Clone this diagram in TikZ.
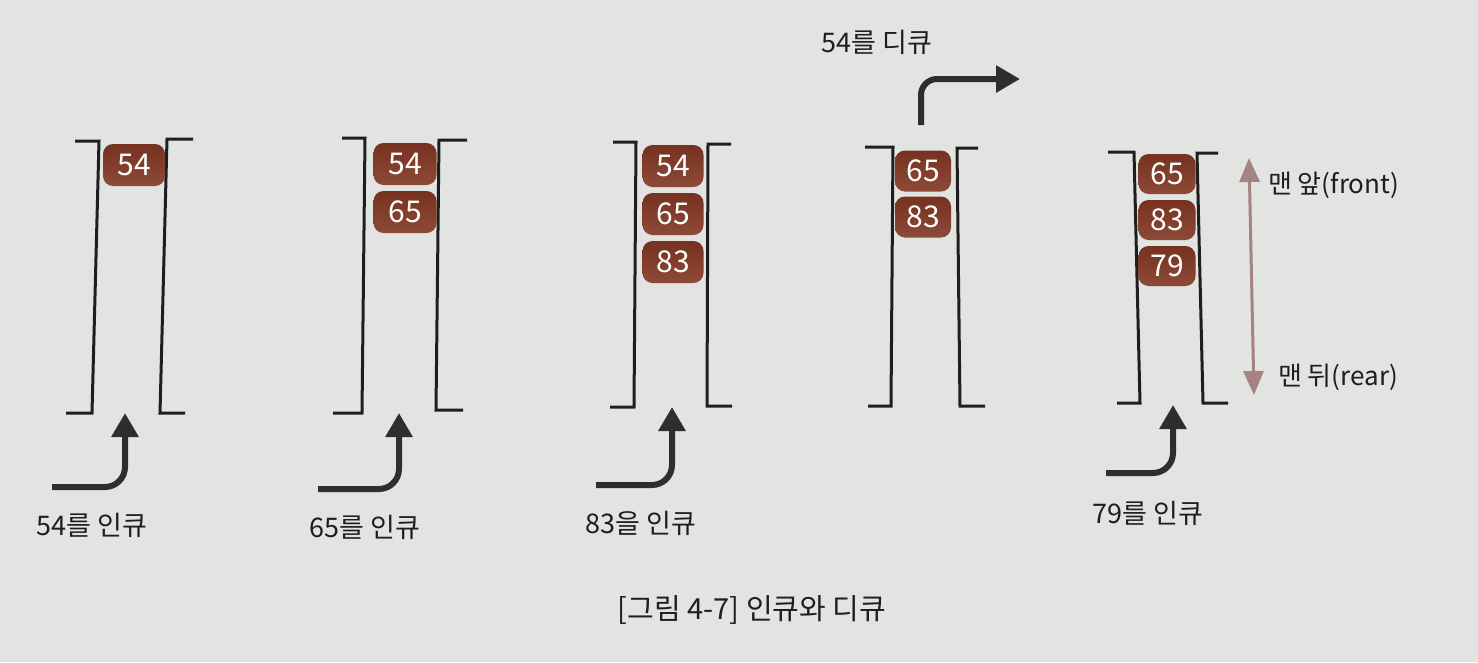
\documentclass[tikz,border=0pt]{standalone}
\usepackage{fontspec}
\setmainfont{Noto Sans CJK KR}
\usetikzlibrary{arrows.meta}
\definecolor{bg}{HTML}{E2E4E1}
\definecolor{cell}{HTML}{76321F}
\definecolor{cellb}{HTML}{8E4A38}
\definecolor{ink}{HTML}{1E1E1E}
\definecolor{arr}{HTML}{2E2E2E}
\definecolor{mauve}{HTML}{A58383}
\begin{document}
\begin{tikzpicture}[x=1pt,y=-1pt,
  bracket/.style={draw=ink,line width=3pt},
  cellbox/.style={rounded corners=10pt, top color=cell, bottom color=cellb, draw=none, text=white,
    minimum width=62pt, minimum height=42pt, inner sep=0pt, font=\fontsize{30}{30}\selectfont},
  enq/.style={draw=arr, line width=6pt, rounded corners=20pt, -{Triangle[width=26pt,length=24pt]}},
  lbl/.style={font=\fontsize{27}{27}\selectfont, text=ink, inner sep=0pt},
  dbl/.style={draw=mauve, line width=3pt, {Triangle[width=20pt,length=24pt]}-{Triangle[width=20pt,length=24pt]}},
]
\fill[bg] (0,0) rectangle (1478,662);

% queue 1
\draw[bracket] (75,141) -- (99,141) -- (92,413) -- (66,413);
\draw[bracket] (193,139) -- (167,139) -- (160,413) -- (185,413);
\node[cellbox] (q1a) at (134,165) {54};
\coordinate (e1s) at (52,487);
\coordinate (e1t) at (125,413);
\draw[enq] (e1s) -| (e1t);
\node[lbl] (l1) at (92,525) {54를 인큐};

% queue 2
\draw[bracket] (342,138) -- (365,138) -- (362,413) -- (333,413);
\draw[bracket] (467,140) -- (439,140) -- (436,410) -- (463,410);
\node[cellbox, minimum width=63pt] (q2a) at (405,164) {54};
\node[cellbox, minimum width=63pt] (q2b) at (405,212) {65};
\coordinate (e2s) at (318,489);
\coordinate (e2t) at (399,413);
\draw[enq] (e2s) -| (e2t);
\node[lbl] (l2) at (365,527) {65를 인큐};

% queue 3
\draw[bracket] (613,142) -- (636,142) -- (634,407) -- (610,407);
\draw[bracket] (731,144) -- (708,144) -- (707,406) -- (732,406);
\node[cellbox, minimum width=61pt] (q3a) at (673,166) {54};
\node[cellbox, minimum width=61pt] (q3b) at (673,214) {65};
\node[cellbox, minimum width=61pt] (q3c) at (673,262) {83};
\coordinate (e3s) at (596,485);
\coordinate (e3t) at (672,407);
\draw[enq] (e3s) -| (e3t);
\node[lbl] (l3) at (641,523) {83을 인큐};

% queue 4
\draw[bracket] (865,147) -- (893,147) -- (891,406) -- (868,406);
\draw[bracket] (978,148) -- (957,148) -- (960,406) -- (985,406);
\node[cellbox, minimum width=56pt, minimum height=41pt] (q4a) at (923,171) {65};
\node[cellbox, minimum width=56pt, minimum height=41pt] (q4b) at (923,217) {83};
\coordinate (d4s) at (921,125);
\coordinate (d4t) at (1020,79);
\draw[enq, rounded corners=16pt] (d4s) |- (d4t);
\node[lbl] (l4) at (877,42) {54를 디큐};

% queue 5
\draw[bracket] (1108,152) -- (1134,152) -- (1140,403) -- (1117,403);
\draw[bracket] (1218,153) -- (1197,153) -- (1203,403) -- (1228,403);
\node[cellbox, minimum width=57pt, minimum height=40pt] (q5a) at (1167,174) {65};
\node[cellbox, minimum width=57pt, minimum height=40pt] (q5b) at (1167,220) {83};
\node[cellbox, minimum width=57pt, minimum height=40pt] (q5c) at (1167,266) {79};
\coordinate (e5s) at (1106,473);
\coordinate (e5t) at (1173,405);
\draw[enq] (e5s) -| (e5t);
\node[lbl] (l5) at (1148,513) {79를 인큐};

\coordinate (fr) at (1249,158);
\coordinate (re) at (1254,395);
\draw[dbl] (fr) -- (re);
\node[lbl, anchor=west, font=\fontsize{26}{26}\selectfont] (front) at (1268,185) {맨 앞(front)};
\node[lbl, anchor=west, font=\fontsize{26}{26}\selectfont] (rear) at (1278,377) {맨 뒤(rear)};

\node[lbl, font=\fontsize{29}{29}\selectfont] (cap) at (752,610) {[그림 4-7] 인큐와 디큐};
\end{tikzpicture}
\end{document}
